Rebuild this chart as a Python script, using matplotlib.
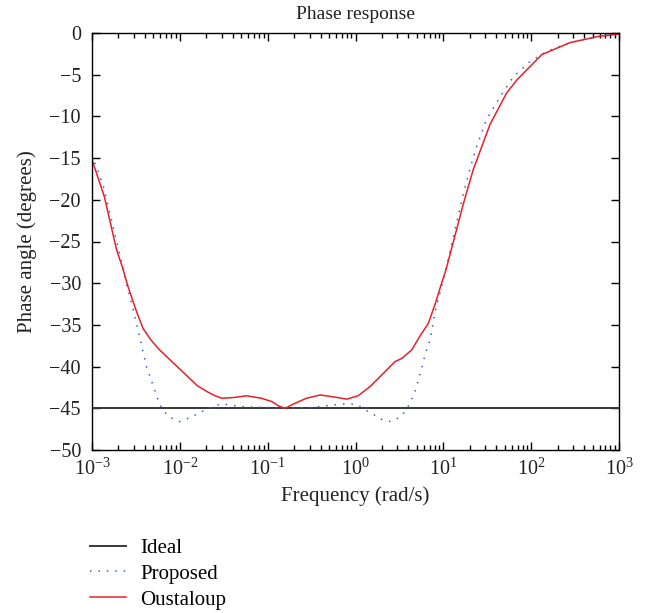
import numpy as np
import matplotlib
matplotlib.use("Agg")
import matplotlib.pyplot as plt
from matplotlib.ticker import LogLocator, MultipleLocator, NullFormatter

plt.rcParams['font.family'] = ['Liberation Serif', 'DejaVu Serif']
plt.rcParams['mathtext.fontset'] = 'custom'
plt.rcParams['mathtext.rm'] = 'Liberation Serif'
plt.rcParams['mathtext.it'] = 'Liberation Serif:italic'
plt.rcParams['axes.unicode_minus'] = True

# Data (log10 of frequency in rad/s, phase in degrees)
ideal_logf = [-3.0, 3.0]
ideal_phase = [-45.0, -45.0]

proposed_logf = [-3.0, -2.87, -2.76, -2.68, -2.61, -2.53, -2.45, -2.38, -2.30, -2.23,
                 -2.13, -2.0, -1.86, -1.73, -1.58, -1.50, -1.30, -1.0, -0.80, -0.50,
                 -0.16, -0.01, 0.07, 0.13, 0.20, 0.27, 0.34, 0.41, 0.48, 0.54,
                 0.58, 0.62, 0.68, 0.72, 0.76, 0.80, 0.85, 0.89, 0.92, 0.96,
                 1.0, 1.08, 1.15, 1.23, 1.30, 1.38, 1.49, 1.65, 1.80, 1.99,
                 2.18, 2.44, 2.71, 3.0]
proposed_phase = [-14.6, -18.4, -23.2, -26.8, -30.0, -33.2, -36.8, -40.0, -42.4, -44.6,
                  -46.0, -46.6, -46.0, -45.3, -44.6, -44.5, -44.8, -44.9, -45.0, -44.9,
                  -44.5, -44.5, -44.9, -45.3, -45.7, -46.2, -46.5, -46.6, -46.2, -45.7,
                  -45.1, -44.4, -42.9, -41.4, -39.9, -38.3, -36.8, -34.4, -32.8, -31.2,
                  -29.6, -26.0, -22.8, -19.2, -16.4, -13.6, -10.4, -7.6, -5.2, -3.4,
                  -2.2, -1.16, -0.52, -0.12]

oustaloup_logf = [-3.0, -2.86, -2.72, -2.65, -2.59, -2.50, -2.42, -2.33, -2.23, -2.0,
                  -1.90, -1.80, -1.69, -1.60, -1.52, -1.38, -1.24, -1.07, -0.95, -0.88,
                  -0.80, -0.71, -0.56, -0.40, -0.21, -0.10, 0.03, 0.165, 0.28, 0.45,
                  0.53, 0.64, 0.73, 0.83, 0.91, 0.98, 1.03, 1.11, 1.23, 1.34,
                  1.53, 1.72, 1.84, 2.12, 2.44, 2.75, 3.0]
oustaloup_phase = [-15.2, -19.6, -26.0, -28.2, -30.4, -33.2, -35.4, -36.8, -38.0, -40.3,
                   -41.3, -42.3, -43.0, -43.5, -43.8, -43.7, -43.5, -43.8, -44.2, -44.7,
                   -45.0, -44.5, -43.8, -43.4, -43.7, -43.9, -43.5, -42.4, -41.2, -39.4,
                   -39.0, -38.0, -36.4, -34.8, -32.4, -30.0, -28.4, -25.2, -20.4, -16.4,
                   -11.0, -7.2, -5.6, -2.6, -1.16, -0.44, -0.12]

title = "Phase response"
xlabel = "Frequency (rad/s)"
ylabel = "Phase angle (degrees)"
labels = ["Ideal", "Proposed", "Oustaloup"]

fig = plt.figure(figsize=(6.5, 6.13), dpi=100)
ax = fig.add_axes([92/650, 1-450/613, (619-92)/650, (450-33)/613])

l1, = ax.plot(10**np.array(ideal_logf), ideal_phase, color='#383838', lw=1.4, label=labels[0])
l2, = ax.plot(10**np.array(proposed_logf), proposed_phase, color='#3a5fc8', lw=1.1,
              linestyle=(0, (1, 4.5)), label=labels[1])
l3, = ax.plot(10**np.array(oustaloup_logf), oustaloup_phase, color='#e8202a', lw=1.1,
              label=labels[2])

ax.set_xscale('log')
ax.set_xlim(1e-3, 1e3)
ax.set_ylim(-50, 0)
ax.yaxis.set_major_locator(MultipleLocator(5))
ax.xaxis.set_major_locator(LogLocator(base=10, numticks=10))
ax.xaxis.set_minor_locator(LogLocator(base=10, subs=np.arange(2, 10), numticks=100))
ax.xaxis.set_minor_formatter(NullFormatter())

ax.tick_params(which='both', direction='in', top=True, right=True, labelsize=14.5,
               width=1.0, color='black', labelcolor='#222222')
ax.tick_params(which='major', length=6)
ax.tick_params(which='minor', length=3.5)
ax.tick_params(axis='x', pad=6)
ax.tick_params(axis='y', pad=8)
for s in ax.spines.values():
    s.set_linewidth(1.0)
    s.set_color('black')

ax.set_title(title, fontsize=14, pad=10, color='#222222')
ax.set_xlabel(xlabel, fontsize=15, labelpad=5, color='#222222')
ax.set_ylabel(ylabel, fontsize=15, labelpad=9, color='#222222')

fig.legend(handles=[l1, l2, l3], labels=labels, loc='upper left',
           bbox_to_anchor=(82/650, 1-530/613), frameon=False, fontsize=15,
           handlelength=1.7, handletextpad=0.7, labelspacing=0.3, borderaxespad=0)

fig.savefig("out.png", dpi=100)
